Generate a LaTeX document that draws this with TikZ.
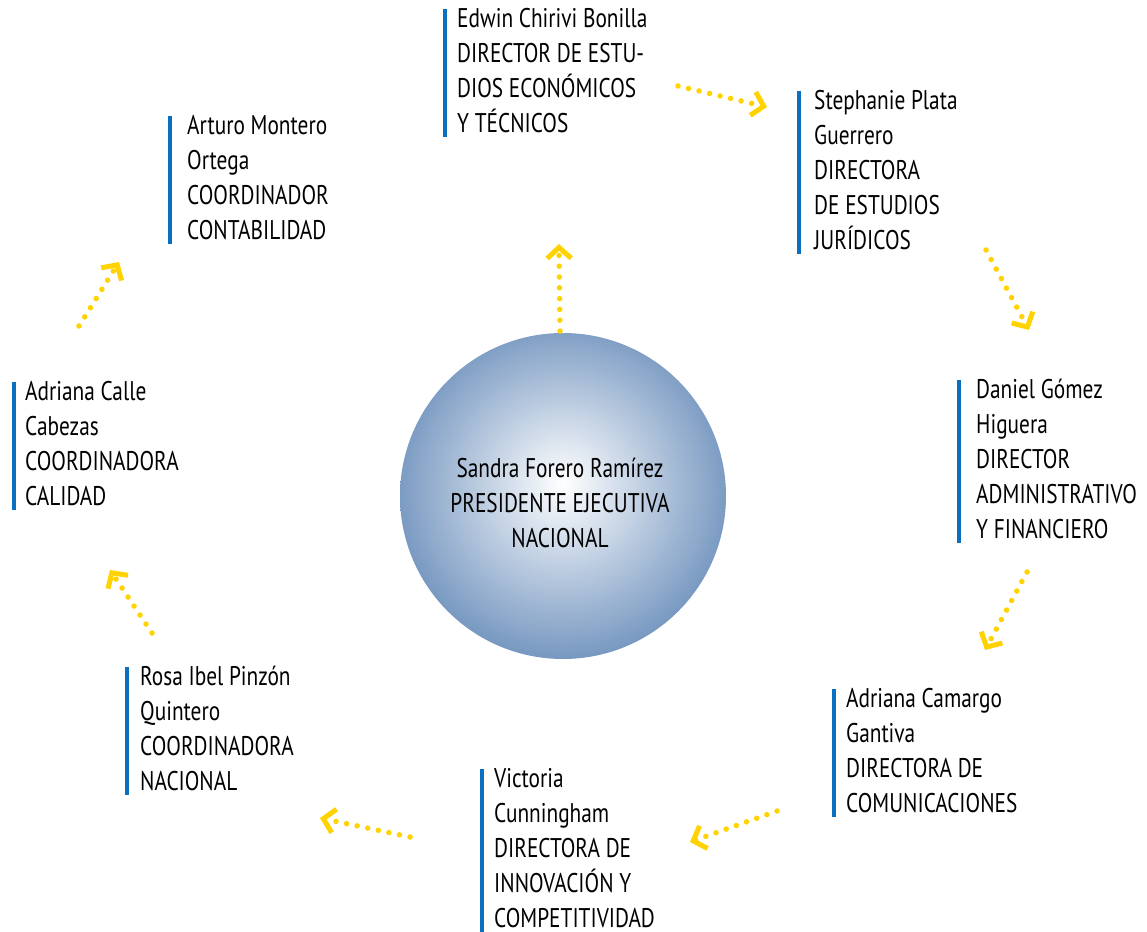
\documentclass[tikz,border=0pt]{standalone}
\usepackage{fontspec}
\setmainfont{PT Sans}[FakeStretch=0.79]
\usetikzlibrary{arrows.meta,calc,positioning}

\definecolor{arrowyellow}{HTML}{FFD200}
\definecolor{barblue}{HTML}{0B6FBF}
\definecolor{orbblue}{HTML}{4874AB}

\pgfdeclareradialshading{orb}{\pgfpoint{0bp}{2bp}}{color(0bp)=(white); color(35bp)=(orbblue); color(50bp)=(orbblue)}

\begin{document}
\begin{tikzpicture} [x=1pt, y=-1pt,
	every node/.style={font=\fontsize{27}{35}\selectfont},
	person/.style={anchor=north west, align=left, inner xsep=12pt, inner ysep=0pt},
	bar/.style={draw=barblue, line width=4pt},
	link/.style={draw=arrowyellow, line width=5.5pt, line cap=round, dash pattern=on 0pt off 10.8pt,
		-{Straight Barb[length=11pt, width=24pt, line width=5pt]}}]
		
		\useasboundingbox (0,0) rectangle (1147,931);
		
		\shade [shading=orb] (563,496) circle (163);
		
		\node (P) [align=center] at (560,503) {Sandra Forero Ramírez\\PRESIDENTE EJECUTIVA\\NACIONAL};
		
		
		\node (D_EC) [person] at (445,8) {Edwin Chirivi Bonilla\\DIRECTOR DE ESTU-\\DIOS ECONÓMICOS\\Y TÉCNICOS};
		
		\node (D_JU) [person, inner xsep=15pt] at (799,90) {Stephanie Plata\\Guerrero\\DIRECTORA\\DE ESTUDIOS\\JURÍDICOS};
		
		\node (D_AF) [person, inner xsep=17pt] at (959,379) {Daniel Gómez\\Higuera\\DIRECTOR\\ADMINISTRATIVO\\Y FINANCIERO};
		
		\node (D_CO) [person] at (834,688) {Adriana Camargo\\Gantiva\\DIRECTORA DE\\COMUNICACIONES};
		
		\node (D_IC) [person] at (482,768) {Victoria\\Cunningham\\DIRECTORA DE\\INNOVACIÓN Y\\COMPETITIVIDAD};
		
		\node (C_NA) [person, inner xsep=13pt] at (127,666) {Rosa Ibel Pinzón\\Quintero\\COORDINADORA\\NACIONAL};
		
		\node (C_CA) [person, inner xsep=11pt] at (14,381) {Adriana Calle\\Cabezas\\COORDINADORA\\CALIDAD};
		
		\node (C_CO) [person, inner xsep=17pt] at (170,115) {Arturo Montero\\Ortega\\COORDINADOR\\CONTABILIDAD};
		
		\foreach \n in {D_EC,D_JU,D_AF,D_CO,D_IC,C_NA,C_CA,C_CO}
			\draw [bar] ($(\n.north west)+(0,1)$) -- ($(\n.south west)+(0,4)$);
		
		
		% free ends of the dotted arrows
		\coordinate (p_up) at (560,331);	\coordinate (p_top) at (559,244);
		\coordinate (ec_out) at (678,86);	\coordinate (ju_in) at (767,107);
		\coordinate (ju_out) at (986,250);	\coordinate (af_in) at (1029,330);
		\coordinate (af_out) at (1027,572);	\coordinate (co_in) at (985,650);
		\coordinate (co_out) at (777,811);	\coordinate (ic_in) at (690,842);
		\coordinate (ic_out) at (410,837);	\coordinate (na_in) at (320,818);
		\coordinate (na_out) at (152,633);	\coordinate (ca_in) at (110,570);
		\coordinate (ca_out) at (79,326);	\coordinate (cc_in) at (119,262);
		
		\draw [link] (p_up) -- (p_top);
		\draw [link] (ec_out) -- (ju_in);
		\draw [link] (ju_out) -- (af_in);
		\draw [link] (af_out) -- (co_in);
		\draw [link] (co_out) -- (ic_in);
		\draw [link] (ic_out) -- (na_in);
		\draw [link] (na_out) -- (ca_in);
		\draw [link] (ca_out) -- (cc_in);
		
\end{tikzpicture}
\end{document}
